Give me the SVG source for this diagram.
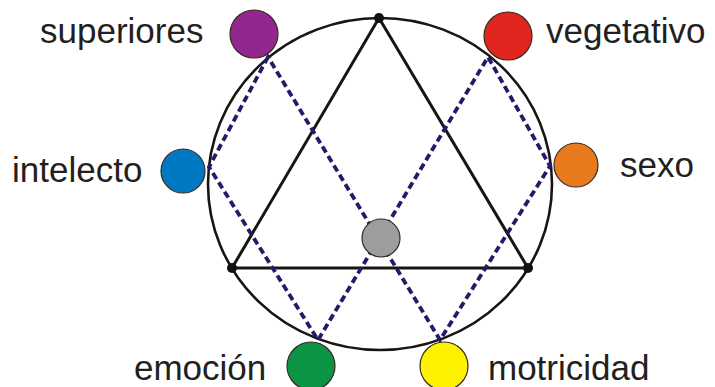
<svg xmlns="http://www.w3.org/2000/svg" width="715" height="387" viewBox="0 0 715 387">
<style>
.lbl{font-family:"Liberation Sans",Arial,sans-serif;font-size:35px;fill:#231f20}
.node{stroke:#3a2a20;stroke-width:1.2}
.solid{stroke:#1a1512;stroke-width:3;fill:none;stroke-linecap:round}
.dash{stroke:#221c68;stroke-width:3.8;fill:none;stroke-dasharray:7 4}
</style>
<rect width="715" height="387" fill="#fff"/>
<g id="connectors">
<ellipse cx="380" cy="184" rx="172" ry="166" fill="none" stroke="#1a1512" stroke-width="2.6"/>
<polygon class="solid" points="379,18 232,268 528,268" stroke-linejoin="round"/>
<polygon class="dash" points="268,57 209,167 318,340 488,57 550,166 440,340"/>
<circle cx="379" cy="18" r="5" fill="#111"/>
<circle cx="232" cy="268" r="5" fill="#111"/>
<circle cx="528" cy="268" r="5" fill="#111"/>
</g>
<g id="centro"><circle class="node" cx="381" cy="238" r="19" fill="#9d9d9d"/></g>
<g id="superiores"><circle class="node" cx="254" cy="34" r="24" fill="#92278f"/><text class="lbl" x="40" y="43">superiores</text></g>
<g id="vegetativo"><circle class="node" cx="508" cy="36" r="24" fill="#e0261f"/><text class="lbl" x="546" y="43">vegetativo</text></g>
<g id="intelecto"><circle class="node" cx="183" cy="171" r="22" fill="#0079c2"/><text class="lbl" x="12" y="182">intelecto</text></g>
<g id="sexo"><circle class="node" cx="576" cy="165" r="22" fill="#e87a1e"/><text class="lbl" x="620" y="177">sexo</text></g>
<g id="emocion"><circle class="node" cx="311" cy="366" r="24" fill="#0a9444"/><text class="lbl" x="134" y="380">emoción</text></g>
<g id="motricidad"><circle class="node" cx="444" cy="366" r="24" fill="#fff200"/><text class="lbl" x="488" y="380">motricidad</text></g>
</svg>
